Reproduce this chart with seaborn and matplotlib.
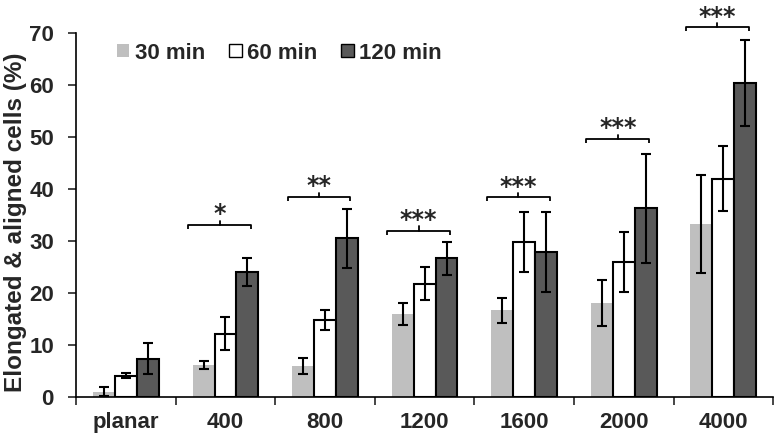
import matplotlib
matplotlib.use("Agg")
import matplotlib.pyplot as plt
from matplotlib.patches import Patch
import seaborn as sns
import pandas as pd
import numpy as np

categories = ["planar", "400", "800", "1200", "1600", "2000", "4000"]
times = ["30 min", "60 min", "120 min"]
vals_30 = [1.0, 6.2, 6.0, 15.9, 16.7, 18.1, 33.2]
vals_60 = [4.1, 12.2, 14.8, 21.8, 29.8, 25.9, 42.0]
vals_120 = [7.4, 24.1, 30.5, 26.7, 27.8, 36.3, 60.4]
err_30 = [0.9, 0.8, 1.5, 2.1, 2.4, 4.4, 9.4]
err_60 = [0.5, 3.1, 2.0, 3.2, 5.8, 5.8, 6.3]
err_120 = [2.9, 2.7, 5.7, 3.2, 7.7, 10.5, 8.3]
sig_categories = ["400", "800", "1200", "1600", "2000", "4000"]
sig_labels = ["*", "**", "***", "***", "***", "***"]
sig_heights = [33.1, 38.5, 32.0, 38.4, 49.6, 71.1]

colors = {"30 min": "#bfbfbf", "60 min": "#ffffff", "120 min": "#595959"}
edges = {"30 min": "none", "60 min": "black", "120 min": "black"}

rows = []
for t, vals in zip(times, [vals_30, vals_60, vals_120]):
    for c, v in zip(categories, vals):
        rows.append({"cat": c, "time": t, "value": v})
df = pd.DataFrame(rows)

sns.set_style("white")
plt.rcParams["font.family"] = ["Liberation Sans", "DejaVu Sans"]
plt.rcParams["font.weight"] = "bold"

fig = plt.figure(figsize=(7.77, 4.41), dpi=100)
ax = fig.add_axes([0.098, 0.0998, 0.897, 0.8254])

sns.barplot(data=df, x="cat", y="value", hue="time", order=categories,
            hue_order=times, palette=colors, errorbar=None, width=0.66,
            gap=0, ax=ax, legend=False, saturation=1)

for cont, t, errs in zip(ax.containers, times, [err_30, err_60, err_120]):
    xs, ys = [], []
    for p in cont.patches:
        p.set_edgecolor(edges[t])
        p.set_linewidth(1.5 if edges[t] != "none" else 0)
        xs.append(p.get_x() + p.get_width() / 2)
        ys.append(p.get_height())
    ax.errorbar(xs, ys, yerr=errs, fmt="none", ecolor="black",
                elinewidth=1.5, capsize=3.5, capthick=1.5, zorder=5)

# significance brackets
for c, lab, h in zip(sig_categories, sig_labels, sig_heights):
    i = categories.index(c)
    x0, x1 = i - 0.375, i + 0.255
    xm = (x0 + x1) / 2
    d = 0.8
    ax.plot([x0, x0, x1, x1], [h - d, h, h, h - d], color="black", lw=1.3,
            clip_on=False, solid_capstyle="butt")
    ax.plot([xm, xm], [h, h + d], color="black", lw=1.3, clip_on=False)
    ax.annotate(lab, (xm, h + d), xytext=(0, -4), textcoords="offset points",
                ha="center", va="bottom", fontsize=17, fontweight="bold",
                family="DejaVu Sans", annotation_clip=False)

ax.set_ylim(0, 70)
ax.set_xlim(-0.5, 6.5)
ax.set_yticks(range(0, 71, 10))
ax.set_xlabel("")
ax.set_ylabel("Elongated & aligned cells (%)", fontsize=17.5, fontweight="bold")
ax.yaxis.set_label_coords(-0.071, 0.48)
ax.tick_params(axis="y", which="major", left=True, direction="out", length=6,
               width=1.2, labelsize=16, pad=10)
ax.set_xticks(range(len(categories)))
ax.set_xticklabels(categories)
ax.tick_params(axis="x", which="major", length=0, labelsize=16, pad=11)
ax.set_xticks(np.arange(-0.5, 7, 1.0), minor=True)
ax.tick_params(axis="x", which="minor", bottom=True, direction="out",
               length=6, width=1.2)
for lab in ax.get_xticklabels() + ax.get_yticklabels():
    lab.set_fontweight("bold")

for s in ["top", "right"]:
    ax.spines[s].set_visible(False)
for s in ["left", "bottom"]:
    ax.spines[s].set_color("black")
    ax.spines[s].set_linewidth(1.2)

handles = [Patch(facecolor=colors[t], edgecolor=("black" if edges[t] != "none" else "none"),
                 linewidth=1.0, label=t) for t in times]
leg = ax.legend(handles=handles, loc="center left", bbox_to_anchor=(0.059, 0.945),
                ncol=3, frameon=False, fontsize=16, handlelength=0.55,
                handleheight=0.55, handletextpad=0.23, columnspacing=1.1,
                borderaxespad=0, borderpad=0)
for t in leg.get_texts():
    t.set_fontweight("bold")

fig.savefig("out.png", dpi=100)
